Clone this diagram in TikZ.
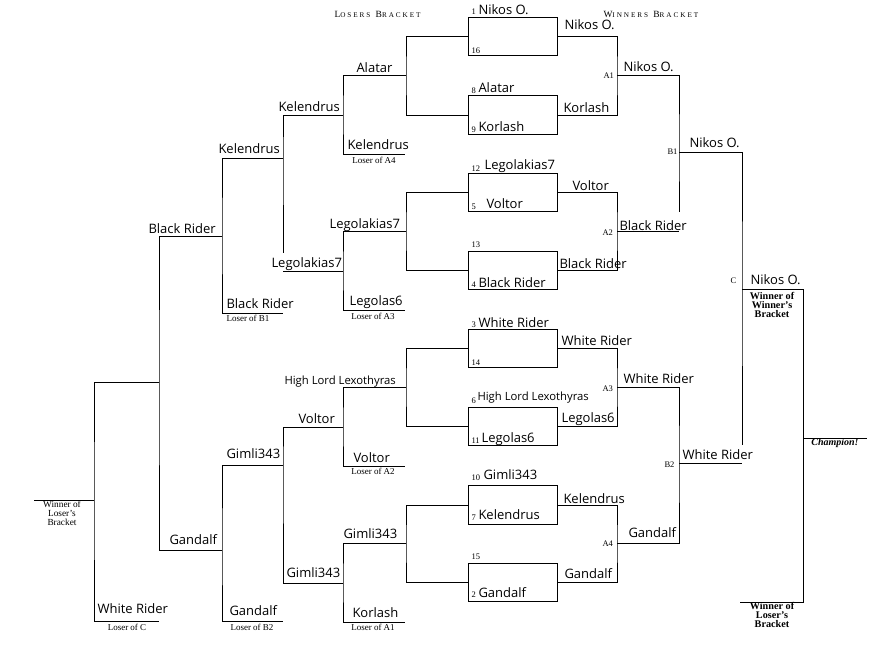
\documentclass[tikz,border=0pt]{standalone}
\usepackage{fontspec}
\setmainfont{Liberation Serif}
\newfontfamily\namefont{Open Sans}
\newfontfamily\capfont[LetterSpace=27]{Liberation Serif}
\usetikzlibrary{calc}

\newcommand{\fakesc}[2]{{\fontsize{9.5}{9.5}\selectfont #1}{\fontsize{7.2}{7.2}\selectfont #2}}

\tikzset{
  wbox/.style={draw, minimum width=89pt, minimum height=38.5pt, inner sep=0pt},
  nm/.style={anchor=base west, inner sep=0pt, font=\namefont\fontsize{13}{13}\selectfont},
  nms/.style={nm, font=\namefont\fontsize{11.3}{11.3}\selectfont},
  seed/.style={anchor=base west, inner sep=0pt, font=\fontsize{8.5}{8.5}\selectfont},
  rnd/.style={anchor=base west, inner sep=0pt, font=\fontsize{8.5}{8.5}\selectfont},
  lnote/.style={inner sep=0pt, font=\fontsize{9}{9}\selectfont},
  wnote/.style={inner sep=0pt, align=center, font=\fontsize{9.3}{9}\selectfont},
  bnote/.style={inner sep=0pt, align=center, font=\bfseries\fontsize{10.2}{8.8}\selectfont},
  title/.style={anchor=base west, inner sep=0pt, font=\capfont},
}

\begin{document}
\begin{tikzpicture}[x=1pt, y=-1pt, line width=1pt]
  \useasboundingbox (0,0) rectangle (881,645);
  \fill[white] (0,0) rectangle (881,645);

  \node[title] (tl) at (334,17) {\fakesc{L}{OSERS} \fakesc{B}{RACKET}};
  \node[title] (tw) at (603,17) {\fakesc{W}{INNERS} \fakesc{B}{RACKET}};

  % first round
  \foreach \i/\y in {1/36.5, 2/115, 3/192.5, 4/270.5, 5/348.5, 6/426.5, 7/505, 8/582.5}
    \node[wbox] (w\i) at (512.5,\y) {};

  \node[seed] (s1)  at (471,14)  {1};
  \node[seed] (s16) at (471,53)  {16};
  \node[seed] (s8)  at (471,93)  {8};
  \node[seed] (s9)  at (471,132) {9};
  \node[seed] (s12) at (471,171) {12};
  \node[seed] (s5)  at (471,209) {5};
  \node[seed] (s13) at (471,247) {13};
  \node[seed] (s4)  at (471,287) {4};
  \node[seed] (s3)  at (471,327) {3};
  \node[seed] (s14) at (471,365) {14};
  \node[seed] (s6)  at (471,403) {6};
  \node[seed] (s11) at (471,443) {11};
  \node[seed] (s10) at (471,480) {10};
  \node[seed] (s7)  at (471,520) {7};
  \node[seed] (s15) at (471,559) {15};
  \node[seed] (s2)  at (471,597) {2};

  \node[nm]  (p1)  at (478,14)  {Nikos O.};
  \node[nm]  (p8)  at (478,92)  {Alatar};
  \node[nm]  (p9)  at (478,131) {Korlash};
  \node[nm]  (p12) at (484,169) {Legolakias7};
  \node[nm]  (p5)  at (486,208) {Voltor};
  \node[nm]  (p4)  at (478,287) {Black Rider};
  \node[nm]  (p3)  at (478,327) {White Rider};
  \node[nms] (p6)  at (477,400) {High Lord Lexothyras};
  \node[nm]  (p11) at (481,442) {Legolas6};
  \node[nm]  (p10) at (483,479) {Gimli343};
  \node[nm]  (p7)  at (478,519) {Kelendrus};
  \node[nm]  (p2)  at (478,597) {Gandalf};

  % winners bracket
  \coordinate (a1) at (617,75.75);
  \coordinate (a2) at (617,231.5);
  \coordinate (a3) at (617,387.5);
  \coordinate (a4) at (617,543.75);
  \coordinate (b1) at (679,152);
  \coordinate (b2) at (679,463);
  \coordinate (c)  at (742,289);
  \coordinate (cr) at (803,289);
  \coordinate (champ) at (803,438);
  \coordinate (champe) at (867,438);
  \coordinate (wr) at (803,602);
  \coordinate (wl) at (740,602);

  \node[nm] (nw1) at (564,29)  {Nikos O.};
  \node[nm] (nw2) at (563,112) {Korlash};
  \node[nm] (nw3) at (572,190) {Voltor};
  \node[nm] (nw4) at (559,268) {Black Rider};
  \node[nm] (nw5) at (561,345) {White Rider};
  \node[nm] (nw6) at (561,422) {Legolas6};
  \node[nm] (nw7) at (563,503) {Kelendrus};
  \node[nm] (nw8) at (564,578) {Gandalf};

  \node[rnd] (tA1) at (603,78)  {A1};
  \node[rnd] (tA2) at (602,235) {A2};
  \node[rnd] (tA3) at (602,391) {A3};
  \node[rnd] (tA4) at (602,546) {A4};
  \node[nm] (nA1) at (623,71)  {Nikos O.};
  \node[nm] (nA2) at (619,230) {Black Rider};
  \node[nm] (nA3) at (623,383) {White Rider};
  \node[nm] (nA4) at (628,537) {Gandalf};

  \node[rnd] (tB1) at (667,154) {B1};
  \node[rnd] (tB2) at (664,467) {B2};
  \node[nm] (nB1) at (689,147) {Nikos O.};
  \node[nm] (nB2) at (682,459) {White Rider};

  \node[rnd] (tC) at (730,283) {C};
  \node[nm] (nC) at (750,284) {Nikos O.};
  \node[bnote] (ww) at (772,305) {Winner of\\Winner’s\\Bracket};
  \node[bnote] (wlr) at (772,615) {Winner of\\Loser’s\\Bracket};
  \node[inner sep=0pt, font=\bfseries\itshape\fontsize{10}{10}\selectfont] (ch) at (835,443) {Champion!};

  \draw (w1.east) -| (a1) |- (w2.east);
  \draw (w3.east) -| (a2) |- (w4.east);
  \draw (w5.east) -| (a3) |- (w6.east);
  \draw (w7.east) -| (a4) |- (w8.east);
  \draw (a1) -| (b1) -- ($(b1 |- nA2.north)+(0,-8)$);
  \draw (a2) -- (b1 |- a2);
  \draw (a3) -| (b2) |- (a4);
  \draw (b1) -| (c) -- ($(c |- nB2.north)+(0,-4)$);
  \draw (b2) -- (c |- b2);
  \draw (c) -- (cr) -- (wr) -- (wl);
  \draw (champ) -- (champe);

  % losers bracket
  \coordinate (r1a) at (406,75.75);
  \coordinate (r1b) at (406,231.5);
  \coordinate (r1c) at (406,387.5);
  \coordinate (r1d) at (406,543.75);
  \coordinate (r2a) at (343,115);
  \coordinate (r2b) at (343,271);
  \coordinate (r2c) at (343,427);
  \coordinate (r2d) at (343,583);
  \coordinate (dA4) at (405,154);
  \coordinate (dA3) at (405,310);
  \coordinate (dA2) at (405,466);
  \coordinate (dA1) at (405,622);
  \coordinate (r3a) at (283,158);
  \coordinate (r3b) at (283,465);
  \coordinate (dB1) at (283,313);
  \coordinate (dB2) at (283,621);
  \coordinate (r4a) at (222,236);
  \coordinate (r4b) at (222,550);
  \coordinate (r5)  at (159,382);
  \coordinate (dC)  at (159,621);
  \coordinate (r6)  at (94,500);
  \coordinate (wlb) at (34,500);

  \node[nm]  (nL1a) at (356,72)  {Alatar};
  \node[nm]  (nD4)  at (347,149) {Kelendrus};
  \node[lnote] (xD4) at (374,160) {Loser of A4};
  \node[nm]  (nL1b) at (329,228) {Legolakias7};
  \node[nm]  (nD3)  at (349,305) {Legolas6};
  \node[lnote] (xD3) at (373,316) {Loser of A3};
  \node[nms] (nL1c) at (284,384) {High Lord Lexothyras};
  \node[nm]  (nD2)  at (353,462) {Voltor};
  \node[lnote] (xD2) at (373,471) {Loser of A2};
  \node[nm]  (nL1d) at (343,538) {Gimli343};
  \node[nm]  (nD1)  at (352,617) {Korlash};
  \node[lnote] (xD1) at (373,627) {Loser of A1};

  \node[nm] (nL2a) at (278,111) {Kelendrus};
  \node[nm] (nL2b) at (271,267) {Legolakias7};
  \node[nm] (nL2c) at (298,423) {Voltor};
  \node[nm] (nL2d) at (286,577) {Gimli343};

  \node[nm] (nL3a) at (218,153) {Kelendrus};
  \node[nm] (nDB1) at (226,308) {Black Rider};
  \node[lnote] (xB1) at (248,318) {Loser of B1};
  \node[nm] (nL3b) at (226,458) {Gimli343};
  \node[nm] (nDB2) at (229,615) {Gandalf};
  \node[lnote] (xB2) at (252,627) {Loser of B2};

  \node[nm] (nL4a) at (148,233) {Black Rider};
  \node[nm] (nL4b) at (169,544) {Gandalf};
  \node[nm] (nDC)  at (97,613)  {White Rider};
  \node[lnote] (xC) at (127,627) {Loser of C};
  \node[wnote] (wll) at (62,513) {Winner of\\Loser’s\\Bracket};

  \draw (w1.west) -| (r1a) |- (w2.west);
  \draw (w3.west) -| (r1b) |- (w4.west);
  \draw (w5.west) -| (r1c) |- (w6.west);
  \draw (w7.west) -| (r1d) |- (w8.west);
  \draw (r1a) -| (r2a) |- (dA4);
  \draw (r1b) -| (r2b) |- (dA3);
  \draw (r1c) -| (r2c) |- (dA2);
  \draw (r1d) -| (r2d) |- (dA1);
  \draw (r2a) -| (r3a) -- ($(r3a |- nL2b.north)+(0,-4)$);
  \draw (r3a |- r2b) -- (r2b);
  \draw (r2c) -| (r3b) |- (r2d);
  \draw (r3a) -| (r4a) |- (dB1);
  \draw (r3b) -| (r4b) |- (dB2);
  \draw (r4a) -| (r5) |- (r4b);
  \draw (r5) -| (r6) |- (dC);
  \draw (r6) -- (wlb);
\end{tikzpicture}
\end{document}
